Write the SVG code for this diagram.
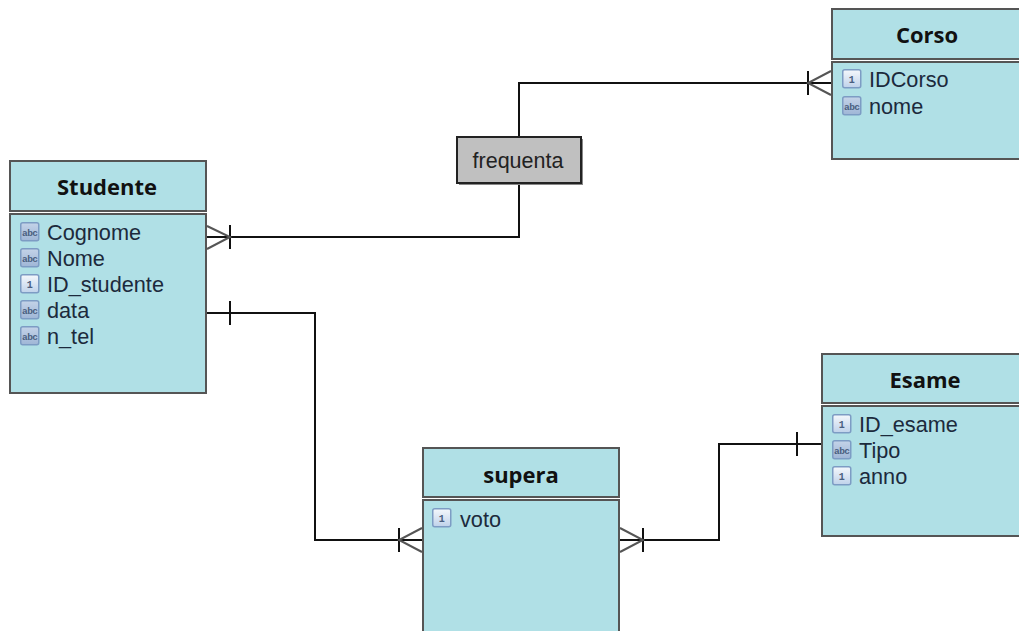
<svg xmlns="http://www.w3.org/2000/svg" width="1019" height="631" viewBox="0 0 1019 631">
<style>
.box{fill:#b0e0e6;stroke:#555;stroke-width:2}
.t{font:bold 22px "Open Sans","DejaVu Sans",sans-serif;fill:#111;text-anchor:middle}
.a{font:21.7px "Liberation Sans",Arial,sans-serif;fill:#1c2a3c}
.c{fill:none;stroke:#111;stroke-width:2}
.g{fill:none;stroke:#555;stroke-width:2}
.ic{stroke:#7d9cc4;stroke-width:1.5}
.it{font:bold 10px "Liberation Mono",monospace;text-anchor:middle;fill:#4a5f80}
</style>
<defs>
<linearGradient id="ga" x1="0" y1="0" x2="0" y2="1"><stop offset="0" stop-color="#c4d3e8"/><stop offset="1" stop-color="#9fb6d6"/></linearGradient>
<linearGradient id="gi" x1="0" y1="0" x2="0" y2="1"><stop offset="0" stop-color="#f5f8fc"/><stop offset="1" stop-color="#bfd2ea"/></linearGradient>
<g id="iabc"><rect x="0.75" y="0.75" width="18" height="18" rx="2" fill="url(#ga)" class="ic"/><text x="9.75" y="13.5" class="it" style="font-size:9.5px;letter-spacing:-0.5px">abc</text></g>
<g id="inum"><rect x="0.75" y="0.75" width="18" height="18" rx="2" fill="url(#gi)" class="ic"/><text x="9.75" y="14" class="it">1</text></g>
</defs>
<g id="connectors">
<path class="c" d="M206 237H519V185M519 137V83H832"/>
<path class="c" d="M230 225V249"/>
<path class="g" d="M207 226L230 237L207 249"/>
<path class="c" d="M808 71V95"/>
<path class="g" d="M831 71L808 83L831 95"/>
<path class="c" d="M206 313H315V540H423"/>
<path class="c" d="M230 301V325"/>
<path class="c" d="M399 528V552"/>
<path class="g" d="M422 528L399 540L422 552"/>
<path class="c" d="M619 540H719V444H822"/>
<path class="c" d="M643 528V552"/>
<path class="g" d="M620 528L643 540L620 552"/>
<path class="c" d="M797 432V456"/>
</g>
<g id="node-studente">
<rect class="box" x="10" y="161" width="196" height="50"/>
<rect class="box" x="10" y="214" width="196" height="179"/>
<text class="t" x="107" y="195">Studente</text>
<use href="#iabc" x="20" y="222"/><text class="a" x="47" y="240">Cognome</text>
<use href="#iabc" x="20" y="248"/><text class="a" x="47" y="266">Nome</text>
<use href="#inum" x="20" y="274"/><text class="a" x="47" y="292">ID_studente</text>
<use href="#iabc" x="20" y="300"/><text class="a" x="47" y="318">data</text>
<use href="#iabc" x="20" y="326"/><text class="a" x="47" y="344">n_tel</text>
</g>
<g id="node-corso">
<rect class="box" x="832" y="9" width="196" height="50"/>
<rect class="box" x="832" y="62" width="196" height="97"/>
<text class="t" x="927" y="43">Corso</text>
<use href="#inum" x="842" y="69"/><text class="a" x="869" y="87">IDCorso</text>
<use href="#iabc" x="842" y="96"/><text class="a" x="869" y="114">nome</text>
</g>
<g id="node-esame">
<rect class="box" x="822" y="354" width="206" height="49"/>
<rect class="box" x="822" y="406" width="206" height="130"/>
<text class="t" x="925" y="388">Esame</text>
<use href="#inum" x="832" y="414"/><text class="a" x="859" y="432">ID_esame</text>
<use href="#iabc" x="832" y="440"/><text class="a" x="859" y="458">Tipo</text>
<use href="#inum" x="832" y="466"/><text class="a" x="859" y="484">anno</text>
</g>
<g id="node-supera">
<rect class="box" x="423" y="448" width="196" height="49"/>
<rect class="box" x="423" y="500" width="196" height="140"/>
<text class="t" x="521" y="483">supera</text>
<use href="#inum" x="432" y="508"/><text class="a" x="460" y="527">voto</text>
</g>
<g id="node-frequenta">
<rect x="459" y="139" width="124" height="46" fill="#888"/>
<rect x="457" y="137" width="124" height="46" fill="#c0c0c0" stroke="#222" stroke-width="2"/>
<text x="518" y="168" text-anchor="middle" style="font:21.5px 'Liberation Sans',Arial,sans-serif;fill:#222">frequenta</text>
</g>
</svg>
